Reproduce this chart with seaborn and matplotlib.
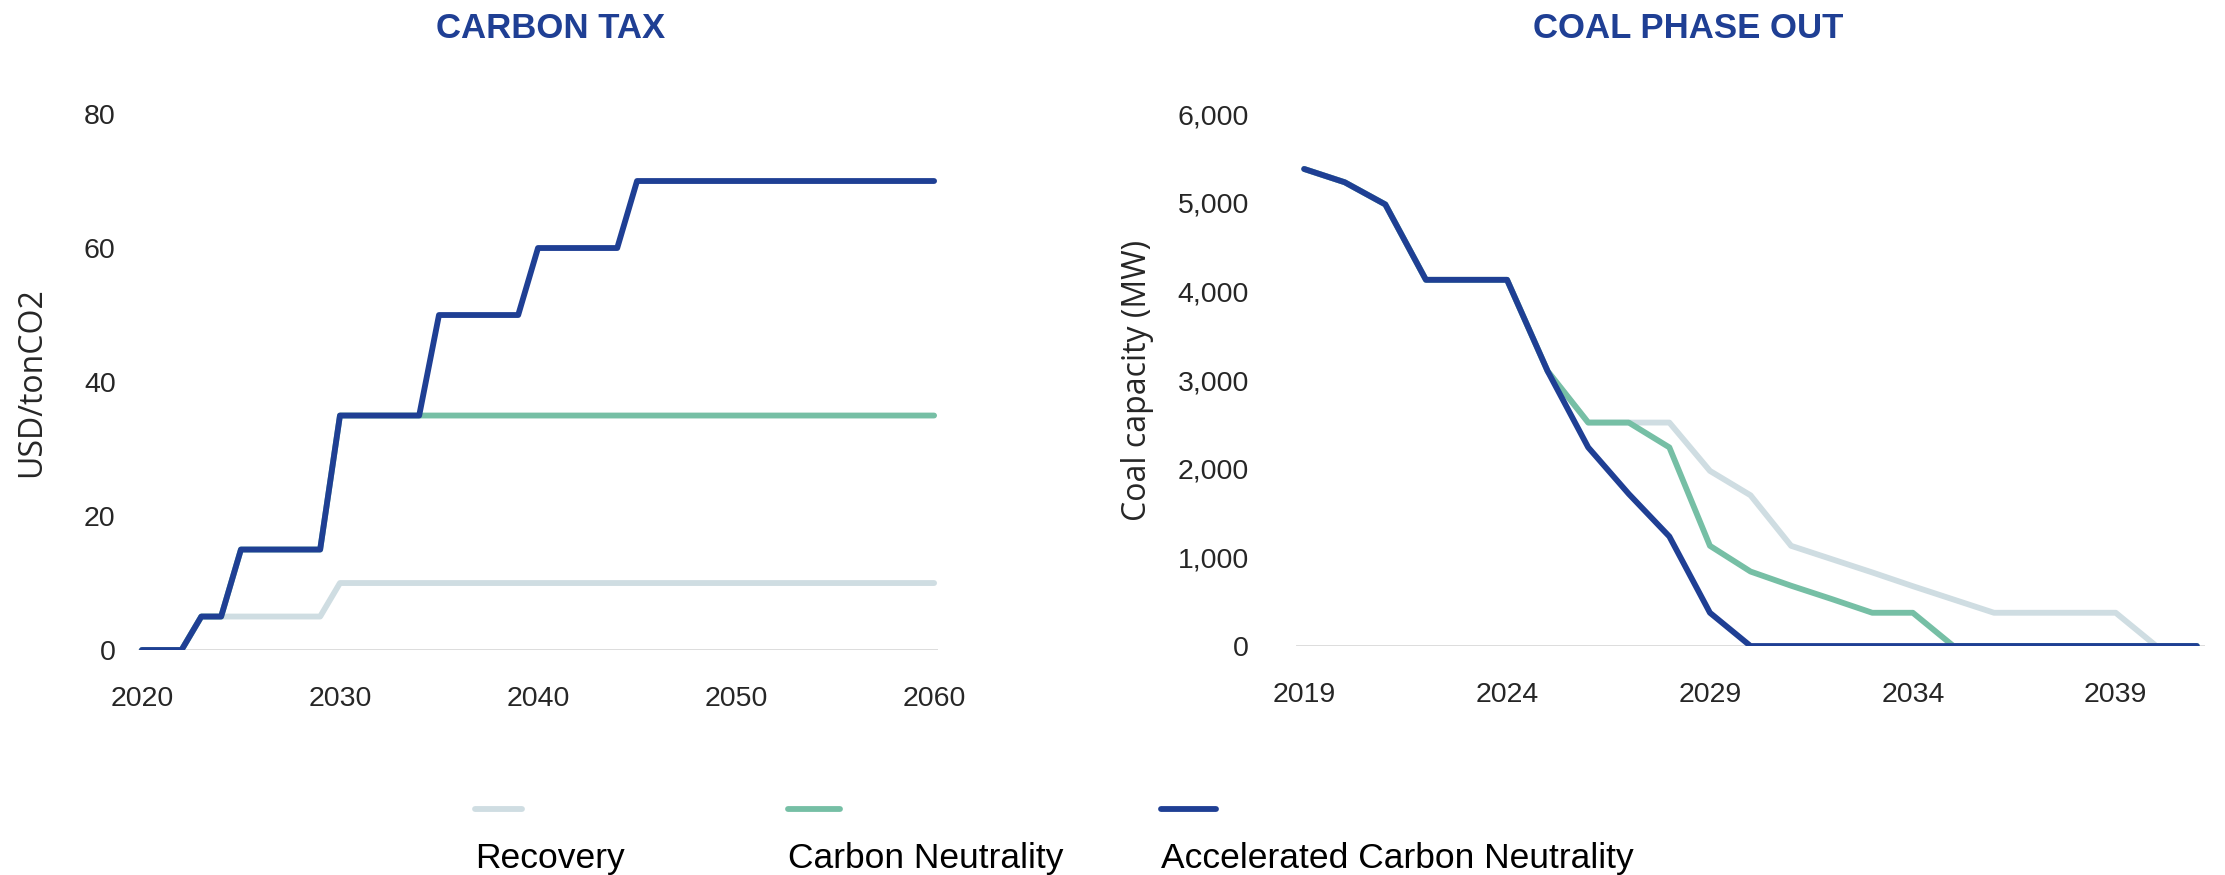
import numpy as np
import pandas as pd
import matplotlib
matplotlib.use("Agg")
import matplotlib.pyplot as plt
from matplotlib.lines import Line2D
from matplotlib.ticker import FuncFormatter
import seaborn as sns

# ---------------- data ----------------
scenarios = ["Recovery", "Carbon Neutrality", "Accelerated Carbon Neutrality"]
colors = ["#CFDDE2", "#76BFA5", "#1F3F94"]

tax_years = list(range(2020, 2061))
tax_recovery = [0, 0, 0, 5, 5, 5, 5, 5, 5, 5] + [10] * 31
tax_neutral = [0, 0, 0, 5, 5, 15, 15, 15, 15, 15] + [35] * 31
tax_accel = ([0, 0, 0, 5, 5, 15, 15, 15, 15, 15]
             + [35] * 5 + [50] * 5 + [60] * 5 + [70] * 16)

coal_years = list(range(2019, 2042))
coal_recovery = [5380, 5230, 4980, 4130, 4130, 4130, 3100, 2520, 2520, 2520,
                 1975, 1700, 1130, 980, 830, 675, 525, 375, 375, 375, 375, 0, 0]
coal_neutral = [5380, 5230, 4980, 4130, 4130, 4130, 3100, 2520, 2520, 2240,
                1130, 840, 680, 530, 375, 375, 0, 0, 0, 0, 0, 0, 0]
coal_accel = [5380, 5230, 4980, 4130, 4130, 4130, 3100, 2240, 1715, 1235,
              375, 0, 0, 0, 0, 0, 0, 0, 0, 0, 0, 0, 0]

tax_ticks = [2020, 2030, 2040, 2050, 2060]
coal_ticks = [2019, 2024, 2029, 2034, 2039]

tax_df = pd.concat([
    pd.DataFrame({"year": tax_years, "value": v, "scenario": s})
    for s, v in zip(scenarios, [tax_recovery, tax_neutral, tax_accel])
])
coal_df = pd.concat([
    pd.DataFrame({"year": coal_years, "value": v, "scenario": s})
    for s, v in zip(scenarios, [coal_recovery, coal_neutral, coal_accel])
])

# ---------------- style ----------------
sns.set_theme(style="white")
narrow = ["Liberation Sans", "DejaVu Sans"]
plain = ["Open Sans", "DejaVu Sans"]
plt.rcParams["font.family"] = narrow
text_col = "#262626"
title_col = "#1F3F94"

fig = plt.figure(figsize=(22.25, 8.75), dpi=100)
ax1 = fig.add_axes([0.0620, 0.2571, 0.3596, 0.6126])
ax2 = fig.add_axes([0.5825, 0.2617, 0.4085, 0.6080])

palette = dict(zip(scenarios, colors))
for ax, df in [(ax1, tax_df), (ax2, coal_df)]:
    sns.lineplot(data=df, x="year", y="value", hue="scenario",
                 hue_order=scenarios, palette=palette, linewidth=4.2,
                 legend=False, ax=ax, solid_capstyle="round", zorder=3)
    for s in ax.spines.values():
        s.set_visible(False)
    ax.axhline(0, color="#D9D9D9", lw=2, zorder=1)
    ax.tick_params(axis="both", length=0, labelsize=20.5, labelcolor=text_col)
    ax.set_xlabel("")

ax1.set_xlim(2019.8, 2060.2)
ax1.set_ylim(0, 80)
ax1.set_yticks([0, 20, 40, 60, 80])
ax1.set_xticks(tax_ticks)
ax1.tick_params(axis="x", pad=26)
ax1.tick_params(axis="y", pad=16)
ax1.set_ylabel("USD/tonCO2", fontsize=23, family=plain, color=text_col)
ax1.yaxis.set_label_coords(-0.112, 0.5)

ax2.set_xlim(2018.8, 2041.2)
ax2.set_ylim(0, 6000)
ax2.set_yticks(range(0, 6001, 1000))
ax2.yaxis.set_major_formatter(FuncFormatter(lambda v, p: f"{int(v):,}"))
ax2.set_xticks(coal_ticks)
ax2.tick_params(axis="x", pad=26)
ax2.tick_params(axis="y", pad=34)
ax2.set_ylabel("Coal capacity (MW)", fontsize=23, family=plain, color=text_col)
ax2.yaxis.set_label_coords(-0.156, 0.5)

fig.text(0.2476, 0.967, "CARBON TAX", ha="center", va="center",
         fontsize=25, fontweight="bold", color=title_col)
fig.text(0.7586, 0.967, "COAL PHASE OUT", ha="center", va="center",
         fontsize=25, fontweight="bold", color=title_col)

# legend (handles above labels, as in the original)
leg_x = [(475, 522), (788, 840), (1161, 1216)]
for (x0, x1), s, c in zip(leg_x, scenarios, colors):
    fig.add_artist(Line2D([x0 / 2225, x1 / 2225], [0.0754, 0.0754],
                          color=c, lw=4.2, solid_capstyle="round",
                          transform=fig.transFigure))
    fig.text(x0 / 2225, 0.019, s, ha="left", va="center", fontsize=25.5,
             color="black")

fig.savefig("out.png", dpi=100, facecolor="white")
